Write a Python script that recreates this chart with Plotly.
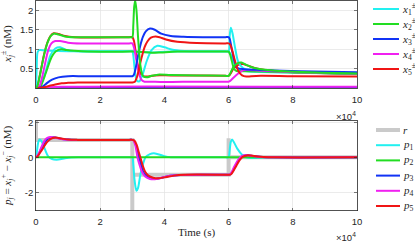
import plotly.graph_objects as go
import numpy as np

W, H = 415, 243

# ---------------- data (time in units of 1e4 s, values in nM) ----------------
t_x1p = [0, 0.02, 0.05, 0.1, 0.3, 1.0, 2.9, 3.0, 3.03, 3.08, 3.14, 3.22, 3.32, 3.45, 3.6, 3.78, 4.0, 4.3, 4.8, 5.9, 6.0, 6.03, 6.07, 6.12, 6.2, 6.3, 6.45, 6.7, 7.5, 8.5, 10]
x1p = [0, 0.45, 0.93, 0.98, 0.97, 0.95, 0.95, 0.95, 0.85, 0.45, 0.2, 0.18, 0.35, 0.7, 0.98, 1.09, 1.05, 0.98, 0.95, 0.95, 0.95, 1.3, 1.55, 1.42, 1.05, 0.68, 0.52, 0.47, 0.43, 0.4, 0.37]

t_x1m = [0, 0.1, 0.2, 0.3, 0.45, 0.6, 0.75, 0.95, 1.3, 2.9, 3.0, 3.3, 3.6, 4.2, 5.9, 6.0, 6.08, 6.2, 6.35, 6.6, 8, 10]
x1m = [0, 0.02, 0.2, 0.42, 0.85, 1.02, 1.05, 0.98, 0.95, 0.95, 0.95, 0.93, 0.92, 0.94, 0.94, 0.94, 0.85, 0.6, 0.47, 0.44, 0.4, 0.37]

t_x2p = [0, 0.05, 0.15, 0.25, 0.35, 0.45, 0.55, 0.7, 0.9, 1.2, 2.9, 3.0, 3.03, 3.06, 3.09, 3.13, 3.18, 3.25, 3.33, 3.45, 3.6, 3.8, 4.2, 5.0, 5.9, 6.0, 6.05, 6.15, 6.3, 6.4, 6.55, 6.8, 7.3, 8.5, 10]
x2p = [0, 0.08, 0.45, 0.85, 1.15, 1.33, 1.40, 1.38, 1.33, 1.31, 1.31, 1.31, 1.6, 2.1, 2.25, 2.0, 1.3, 0.6, 0.32, 0.28, 0.32, 0.35, 0.34, 0.33, 0.32, 0.32, 0.38, 0.55, 0.65, 0.66, 0.6, 0.52, 0.46, 0.41, 0.38]

t_x2m = [0, 0.12, 0.2, 0.3, 0.4, 0.5, 0.62, 0.78, 0.95, 1.2, 1.6, 2.9, 3.0, 3.3, 3.6, 3.9, 4.4, 5.9, 6.0, 6.04, 6.1, 6.17, 6.25, 6.5, 7.0, 8.5, 10]
x2m = [0, 0.02, 0.15, 0.38, 0.62, 0.82, 0.95, 1.0, 0.98, 0.96, 0.94, 0.94, 0.94, 0.93, 0.91, 0.92, 0.94, 0.94, 0.94, 0.88, 0.7, 0.5, 0.44, 0.44, 0.43, 0.4, 0.37]

t_x3p = [0, 0.15, 0.25, 0.35, 0.5, 0.7, 1.0, 1.5, 2.9, 3.0, 3.05, 3.1, 3.17, 3.25, 3.33, 3.42, 3.55, 3.7, 3.9, 4.2, 4.6, 5.2, 5.9, 6.0, 6.04, 6.1, 6.18, 6.27, 6.5, 7.0, 8.2, 10]
x3p = [0, 0.02, 0.07, 0.14, 0.22, 0.28, 0.31, 0.31, 0.31, 0.31, 0.35, 0.5, 0.8, 1.1, 1.32, 1.46, 1.53, 1.5, 1.4, 1.34, 1.32, 1.31, 1.31, 1.31, 1.25, 1.0, 0.7, 0.52, 0.49, 0.47, 0.44, 0.41]

t_x3m = [0, 0.3, 0.8, 3.0, 6.0, 10]
x3m = [0, 0.012, 0.022, 0.025, 0.025, 0.025]

t_x4p = [0, 0.1, 0.18, 0.28, 0.38, 0.48, 0.6, 0.75, 1.0, 1.4, 2.9, 3.0, 3.05, 3.12, 3.2, 3.28, 3.38, 3.55, 4.0, 5.0, 5.9, 6.0, 6.05, 6.15, 6.3, 6.45, 6.6, 7.0, 8.0, 10]
x4p = [0, 0.04, 0.25, 0.62, 0.98, 1.15, 1.21, 1.21, 1.17, 1.15, 1.15, 1.15, 1.05, 0.75, 0.42, 0.22, 0.17, 0.17, 0.16, 0.17, 0.17, 0.17, 0.19, 0.27, 0.38, 0.46, 0.47, 0.45, 0.42, 0.38]

t_x4m = [0, 0.3, 0.8, 10]
x4m = [0, 0.02, 0.04, 0.04]

t_x5p = [0, 0.05, 0.15, 0.25, 0.35, 0.45, 0.55, 0.7, 0.9, 1.2, 2.9, 3.0, 3.05, 3.12, 3.2, 3.3, 3.45, 3.7, 4.2, 5.9, 6.0, 6.05, 6.15, 6.3, 6.45, 6.6, 6.9, 7.5, 8.5, 10]
x5p = [0, 0.08, 0.46, 0.86, 1.16, 1.34, 1.41, 1.39, 1.34, 1.31, 1.31, 1.31, 1.22, 0.85, 0.5, 0.33, 0.3, 0.33, 0.33, 0.32, 0.32, 0.36, 0.5, 0.6, 0.62, 0.58, 0.5, 0.44, 0.4, 0.37]

t_x5m = [0, 0.2, 0.4, 0.6, 0.8, 1.0, 1.3, 1.8, 2.9, 3.0, 3.08, 3.15, 3.22, 3.3, 3.38, 3.47, 3.58, 3.72, 3.85, 4.05, 4.4, 5.0, 5.9, 6.0, 6.05, 6.12, 6.2, 6.3, 6.42, 6.55, 6.7, 7.0, 8.0, 10]
x5m = [0, 0.02, 0.06, 0.1, 0.13, 0.14, 0.15, 0.15, 0.15, 0.15, 0.17, 0.3, 0.55, 0.82, 1.05, 1.2, 1.3, 1.33, 1.31, 1.25, 1.19, 1.16, 1.15, 1.15, 1.12, 0.95, 0.7, 0.45, 0.33, 0.3, 0.31, 0.32, 0.31, 0.30]

t_r = [0, 0, 3, 3, 3, 6, 6, 6, 10]
r = [2.5, 1, 1, -3.5, -1, -1, 1.1, 0, 0]

t_p1 = [0, 0.02, 0.05, 0.08, 0.12, 0.18, 0.28, 0.38, 0.5, 0.7, 0.9, 1.1, 1.4, 2.9, 3.0, 3.03, 3.07, 3.13, 3.18, 3.25, 3.33, 3.42, 3.55, 3.67, 3.8, 4.0, 4.2, 4.5, 5.9, 6.0, 6.03, 6.07, 6.11, 6.17, 6.27, 6.42, 6.55, 6.7, 6.9, 7.2, 10]
p1 = [0, 0.2, 0.65, 0.93, 1.02, 0.9, 0.45, 0.05, -0.1, -0.13, -0.06, -0.01, 0, 0, 0, -0.4, -1.3, -1.92, -1.75, -1.0, -0.4, 0.02, 0.18, 0.23, 0.18, 0.07, 0.01, 0, 0, 0, 0.35, 0.9, 1.02, 0.85, 0.5, 0.15, 0.0, -0.04, -0.03, 0, 0]

t_p2 = [0, 10]
p2 = [0, 0]

t_p3 = [0, 0.06, 0.14, 0.24, 0.33, 0.45, 0.6, 0.82, 1.1, 1.3, 2.9, 3.0, 3.05, 3.11, 3.17, 3.24, 3.32, 3.42, 3.57, 3.75, 3.9, 4.1, 4.5, 5.9, 6.0, 6.06, 6.14, 6.22, 6.32, 6.42, 6.53, 6.65, 6.85, 7.05, 7.35, 10]
p3 = [0, 0.1, 0.4, 0.75, 1.0, 1.13, 1.14, 1.05, 1.01, 1.0, 1.0, 1.0, 0.96, 0.7, 0.25, -0.2, -0.75, -1.05, -1.2, -1.23, -1.18, -1.08, -1.01, -1.0, -1.0, -0.97, -0.75, -0.45, -0.15, 0.05, 0.12, 0.11, 0.06, 0.02, 0, 0]

t_p4 = [0, 0.08, 0.16, 0.25, 0.33, 0.44, 0.6, 0.83, 1.1, 2.9, 3.0, 3.04, 3.1, 3.16, 3.22, 3.3, 3.4, 3.55, 3.7, 3.85, 4.1, 4.5, 5.9, 6.0, 6.05, 6.12, 6.2, 6.3, 6.4, 6.5, 6.6, 6.8, 7.0, 7.3, 10]
p4 = [0, 0.2, 0.55, 0.9, 1.09, 1.17, 1.12, 1.03, 1.0, 1.0, 1.0, 0.95, 0.65, 0.0, -0.4, -0.83, -1.1, -1.24, -1.26, -1.2, -1.08, -1.01, -1.0, -1.0, -0.97, -0.75, -0.45, -0.15, 0.05, 0.12, 0.12, 0.06, 0.02, 0, 0]

t_p5 = [0, 0.05, 0.12, 0.23, 0.33, 0.45, 0.6, 0.8, 1.0, 1.3, 2.9, 3.0, 3.06, 3.14, 3.2, 3.25, 3.32, 3.4, 3.5, 3.65, 3.82, 4.0, 4.3, 4.6, 5.9, 6.0, 6.08, 6.16, 6.25, 6.35, 6.45, 6.57, 6.7, 6.9, 7.1, 7.4, 10]
p5 = [0, 0.05, 0.25, 0.55, 0.85, 1.05, 1.13, 1.08, 1.02, 1.0, 1.0, 1.0, 0.97, 0.7, 0.3, 0.0, -0.45, -0.83, -1.05, -1.17, -1.2, -1.15, -1.05, -1.0, -1.0, -1.0, -0.97, -0.75, -0.45, -0.15, 0.04, 0.11, 0.1, 0.05, 0.02, 0, 0]

x_ticks = [0, 2, 4, 6, 8, 10]
top_yticks = [0.5, 1, 1.5, 2]
bot_yticks = [-2, 0, 2]

top_legend = ["<i>x</i><sub>1</sub><sup>±</sup>", "<i>x</i><sub>2</sub><sup>±</sup>",
              "<i>x</i><sub>3</sub><sup>±</sup>", "<i>x</i><sub>4</sub><sup>±</sup>",
              "<i>x</i><sub>5</sub><sup>±</sup>"]
bot_legend = ["<i>r</i>", "<i>p</i><sub>1</sub>", "<i>p</i><sub>2</sub>", "<i>p</i><sub>3</sub>",
              "<i>p</i><sub>4</sub>", "<i>p</i><sub>5</sub>"]

top_ytitle = "<i>x</i><sub><i>j</i></sub><sup>±</sup> (nM)"
bot_ytitle = "<i>p</i><sub><i>j</i></sub> = <i>x</i><sub><i>j</i></sub><sup>+</sup> − <i>x</i><sub><i>j</i></sub><sup>−</sup> (nM)"

# ---------------- styling ----------------
C1, C2, C3, C4, C5 = "#22F0F0", "#22DD22", "#1133F5", "#F020F0", "#F01515"
RC = "#CACACA"
SERIF = "Liberation Serif"
SANS = "Liberation Sans"
AX = "#262626"
GRID = "#E2E2E2"
LW = 2.0
S = 1e4

fig = go.Figure()

def line(t, v, color, name, xa, ya, shape="spline", width=LW):
    fig.add_trace(go.Scatter(
        x=np.array(t) * S, y=v, mode="lines", name=name,
        line=dict(color=color, width=width, shape=shape, smoothing=0.8 if shape == "spline" else None),
        xaxis=xa, yaxis=ya, showlegend=False, hoverinfo="skip"))

# top panel (draw mostly hidden lines first)
line(t_x1m, x1m, C1, "x1-", "x", "y")
line(t_x3m, x3m, C3, "x3-", "x", "y")
line(t_x4m, x4m, C4, "x4-", "x", "y")
line(t_x5p, x5p, C5, "x5+", "x", "y")
line(t_x1p, x1p, C1, "x1+", "x", "y")
line(t_x2m, x2m, C2, "x2-", "x", "y")
line(t_x4p, x4p, C4, "x4+", "x", "y")
line(t_x3p, x3p, C3, "x3+", "x", "y")
line(t_x5m, x5m, C5, "x5-", "x", "y")
line(t_x2p, x2p, C2, "x2+", "x", "y")

# bottom panel
line(t_r, r, RC, "r", "x2", "y2", shape="linear", width=4)
line(t_p1, p1, C1, "p1", "x2", "y2")
line(t_p2, p2, C2, "p2", "x2", "y2")
line(t_p3, p3, C3, "p3", "x2", "y2")
line(t_p4, p4, C4, "p4", "x2", "y2")
line(t_p5, p5, C5, "p5", "x2", "y2")

xdom = [36 / W, 357 / W]
top_dom = [1 - 88.3 / H, 1 - 0.5 / H]
bot_dom = [1 - 210.5 / H, 1 - 120.7 / H]

axcommon = dict(showline=True, linecolor=AX, linewidth=0.8, mirror="allticks",
                ticks="inside", ticklen=3, tickcolor=AX, tickwidth=0.6,
                showgrid=True, gridcolor=GRID, gridwidth=0.7, zeroline=False,
                automargin=False, tickfont=dict(family=SANS, size=9.5, color=AX))

# manual legends (compact row spacing like the reference)
shapes, annots = [], []
for i, (lab, col) in enumerate(zip(top_legend, [C1, C2, C3, C4, C5])):
    yp = 1 - (9 + 15 * i) / H
    shapes.append(dict(type="line", xref="paper", yref="paper", x0=373 / W, x1=399 / W,
                       y0=yp, y1=yp, line=dict(color=col, width=2)))
    annots.append(dict(text=lab, xref="paper", yref="paper", x=400 / W, y=yp, xanchor="left",
                       yanchor="middle", showarrow=False, font=dict(family=SERIF, size=11, color=AX)))
for i, (lab, col) in enumerate(zip(bot_legend, [RC, C1, C2, C3, C4, C5])):
    yp = 1 - (130 + 15.2 * i) / H
    shapes.append(dict(type="line", xref="paper", yref="paper", x0=376 / W, x1=400 / W,
                       y0=yp, y1=yp, line=dict(color=col, width=4 if col == RC else 2)))
    annots.append(dict(text=lab, xref="paper", yref="paper", x=401 / W, y=yp, xanchor="left",
                       yanchor="middle", showarrow=False, font=dict(family=SERIF, size=11, color=AX)))

annots += [
    dict(text="×10<sup>4</sup>", xref="paper", yref="paper", x=358 / W, y=1 - 116 / H,
         xanchor="right", yanchor="middle", showarrow=False, font=dict(family=SANS, size=9.5, color=AX)),
    dict(text="×10<sup>4</sup>", xref="paper", yref="paper", x=358 / W, y=1 - 237 / H,
         xanchor="right", yanchor="middle", showarrow=False, font=dict(family=SANS, size=9.5, color=AX)),
    dict(text=top_ytitle, xref="paper", yref="paper", x=17 / W, y=1 - 44 / H, textangle=-90,
         xanchor="right", yanchor="middle", showarrow=False, font=dict(family=SERIF, size=11, color=AX)),
    dict(text=bot_ytitle, xref="paper", yref="paper", x=17 / W, y=1 - 166 / H, textangle=-90,
         xanchor="right", yanchor="middle", showarrow=False, font=dict(family=SERIF, size=11, color=AX)),
]

fig.update_layout(
    width=W, height=H, template="none", showlegend=False,
    paper_bgcolor="white", plot_bgcolor="white",
    margin=dict(l=0, r=0, t=0, b=0),
    xaxis=dict(domain=xdom, anchor="y", range=[0, 10 * S], tickvals=[v * S for v in x_ticks],
               ticktext=[str(v) for v in x_ticks], ticklabelstandoff=2, **axcommon),
    yaxis=dict(domain=top_dom, anchor="x", range=[0, 2.25], tickvals=top_yticks,
               ticktext=["0.5", "1", "1.5", "2"], **axcommon),
    xaxis2=dict(domain=xdom, anchor="y2", range=[0, 10 * S], tickvals=[v * S for v in x_ticks],
                ticktext=[str(v) for v in x_ticks], ticklabelstandoff=2,
                title=dict(text="Time (s)", font=dict(family=SERIF, size=11, color=AX), standoff=2),
                **axcommon),
    yaxis2=dict(domain=bot_dom, anchor="x2", range=[-3.05, 2.1], tickvals=bot_yticks,
                ticktext=["-2", "0", "2"], **axcommon),
    shapes=shapes,
    annotations=annots,
)

fig.write_html("out.html", config={"displayModeBar": False, "staticPlot": True},
               post_script="document.body.style.margin='0px';document.body.style.overflow='hidden';")
